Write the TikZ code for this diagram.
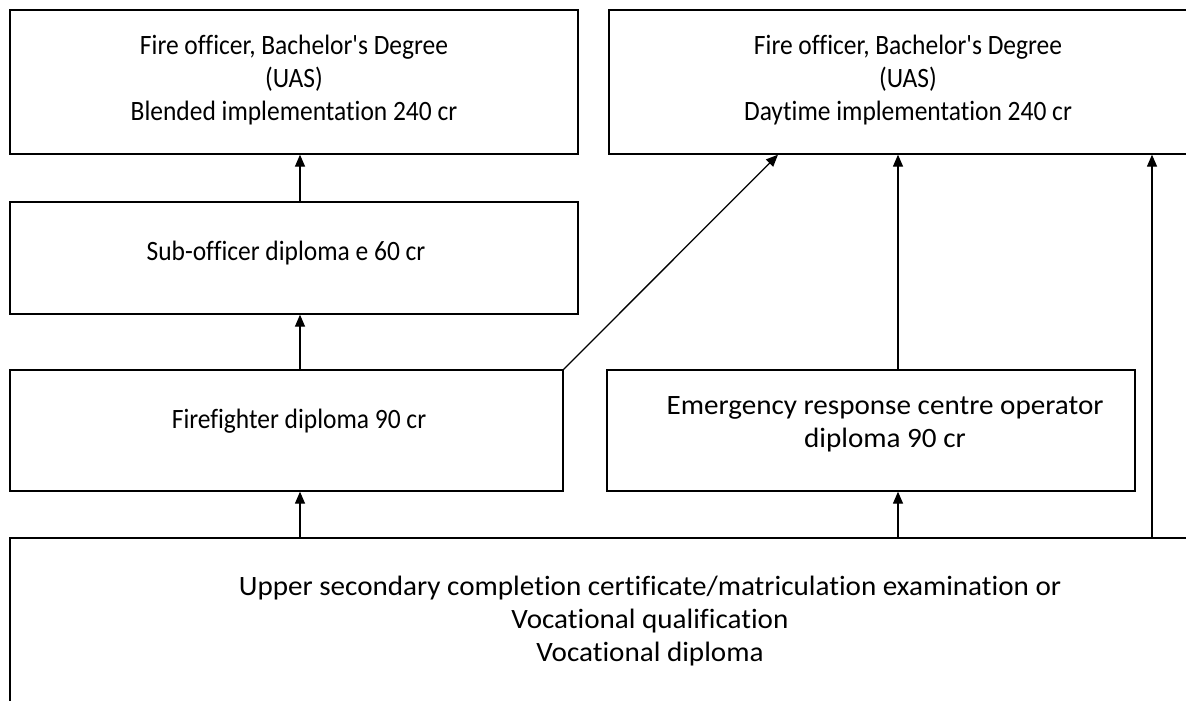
\documentclass[tikz,border=0pt]{standalone}
\usepackage{fontspec}
\setmainfont{Carlito}[Ligatures={TeXOff,NoCommon},FakeStretch=0.91]
\newfontfamily\widerfont{Carlito}[Ligatures={TeXOff,NoCommon},FakeStretch=1.04]
\usetikzlibrary{arrows.meta}
\begin{document}
\begin{tikzpicture}[x=1pt,y=-1pt,
  box/.style={draw, line width=1.3pt, inner sep=0pt},
  txt/.style={inner sep=0pt, align=center, font=\fontsize{28}{33}\selectfont},
  wtxt/.style={txt, font=\fontsize{28}{33}\selectfont\widerfont},
  arr/.style={line width=1.3pt, -{Triangle[length=12pt,width=10pt]}}]
\useasboundingbox (0,0) rectangle (1186,701);
\clip (0,0) rectangle (1186,701);
% boxes
\node[box, minimum width=568pt, minimum height=144pt] (A) at (294,82) {};
\node[box, minimum width=598pt, minimum height=144pt] (B) at (908,82) {};
\node[box, minimum width=568pt, minimum height=112pt] (C) at (294,258) {};
\node[box, minimum width=553pt, minimum height=121pt] (D) at (286.5,430.5) {};
\node[box, minimum width=528pt, minimum height=121pt] (E) at (871,430.5) {};
\node[box, minimum width=1280pt, minimum height=180pt] (F) at (650,628) {};
% texts
\node[txt] (At) at (294,80) {Fire officer, Bachelor's Degree\\(UAS)\\Blended implementation 240 cr};
\node[txt] (Bt) at (908,80) {Fire officer, Bachelor's Degree\\(UAS)\\Daytime implementation 240 cr};
\node[txt] (Ct) at (286,253) {Sub-officer diploma e 60 cr};
\node[txt] (Dt) at (299,421) {Firefighter diploma 90 cr};
\node[wtxt] (Et) at (885,424) {Emergency response centre operator\\diploma 90 cr};
\node[wtxt] (Ft) at (650,621) {Upper secondary completion certificate/matriculation examination or\\Vocational qualification\\Vocational diploma};
% connectors
\coordinate (xl) at (300,0);
\coordinate (xm) at (898,0);
\coordinate (xr) at (1152,0);
\coordinate (xd) at (778,0);
\draw[arr] (xl |- C.north) -- (xl |- A.south);
\draw[arr] (xl |- D.north) -- (xl |- C.south);
\draw[arr] (xl |- F.north) -- (xl |- D.south);
\draw[arr] (D.north east) -- (xd |- B.south);
\draw[arr] (xm |- E.north) -- (xm |- B.south);
\draw[arr] (xm |- F.north) -- (xm |- E.south);
\draw[arr] (xr |- F.north) -- (xr |- B.south);
\end{tikzpicture}
\end{document}
